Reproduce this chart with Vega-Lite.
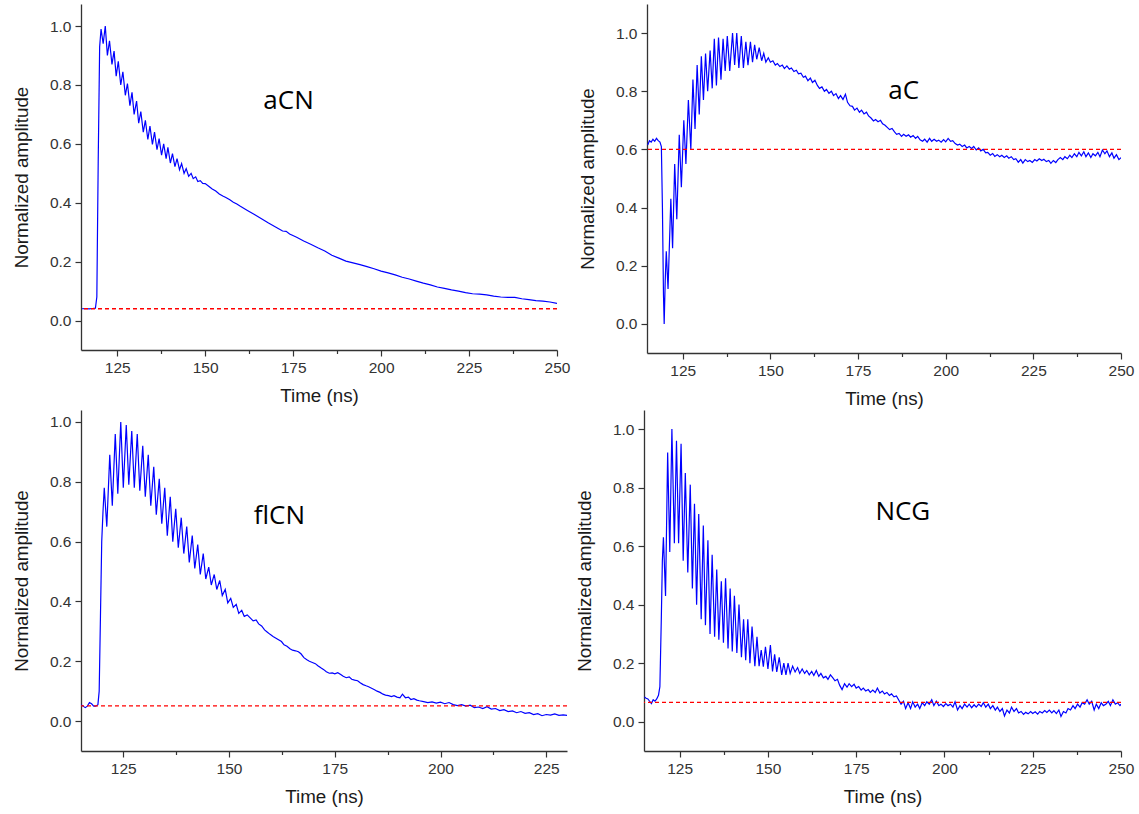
{
"$schema": "https://vega.github.io/schema/vega-lite/v6.json",
"background": "white",
"padding": {"left": 12, "top": 4, "right": 2, "bottom": 2},
"config": {
  "view": {"stroke": null},
  "axis": {"grid": false, "domainColor": "#333333", "domainWidth": 1.3, "tickColor": "#333333", "tickWidth": 1.2, "labelColor": "#333333", "titleColor": "#1a1a1a", "labelFont": "Liberation Sans", "titleFont": "Liberation Sans", "labelFontSize": 15.5, "titleFontSize": 18.8, "titleFontWeight": "normal", "labelOverlap": false, "labelFlush": false}
},
"datasets": {
  "meta": [
    {"panel": "aCN", "t": 173.7, "a": 0.719, "base": 0.04},
    {"panel": "aC", "t": 188, "a": 0.774, "base": 0.6},
    {"panel": "flCN", "t": 161.9, "a": 0.66, "base": 0.051},
    {"panel": "NCG", "t": 188.2, "a": 0.689, "base": 0.066}
  ],
  "aCN": [{"t":115,"a":0.04},{"t":116,"a":0.041},{"t":117,"a":0.04},{"t":118,"a":0.041},{"t":118.8,"a":0.042},{"t":119.2,"a":0.08},{"t":119.6,"a":0.55},{"t":120,"a":0.93},{"t":120.4,"a":0.99},{"t":121,"a":0.94},{"t":121.6,"a":1.0},{"t":122.2,"a":0.9},{"t":122.8,"a":0.95},{"t":123.5,"a":0.87},{"t":124.1,"a":0.915},{"t":124.7,"a":0.83},{"t":125.3,"a":0.88},{"t":126,"a":0.8},{"t":126.6,"a":0.845},{"t":127.3,"a":0.765},{"t":127.9,"a":0.805},{"t":128.6,"a":0.73},{"t":129.2,"a":0.775},{"t":129.8,"a":0.7},{"t":130.5,"a":0.745},{"t":131.1,"a":0.67},{"t":131.7,"a":0.71},{"t":132.4,"a":0.64},{"t":133,"a":0.68},{"t":133.7,"a":0.615},{"t":134.3,"a":0.66},{"t":135,"a":0.598},{"t":135.6,"a":0.64},{"t":136.3,"a":0.58},{"t":136.9,"a":0.618},{"t":137.6,"a":0.562},{"t":138.2,"a":0.6},{"t":138.9,"a":0.55},{"t":139.4,"a":0.588},{"t":140.1,"a":0.535},{"t":140.7,"a":0.567},{"t":141.4,"a":0.523},{"t":142,"a":0.55},{"t":142.7,"a":0.512},{"t":143.3,"a":0.533},{"t":144,"a":0.5},{"t":144.6,"a":0.516},{"t":145.3,"a":0.49},{"t":146,"a":0.5},{"t":146.6,"a":0.482},{"t":147.3,"a":0.488},{"t":147.9,"a":0.472},{"t":148.6,"a":0.475},{"t":149.3,"a":0.466},{"t":150,"a":0.465},{"t":151,"a":0.456},{"t":152,"a":0.447},{"t":153,"a":0.44},{"t":154,"a":0.43},{"t":155,"a":0.423},{"t":156,"a":0.417},{"t":157,"a":0.41},{"t":158,"a":0.402},{"t":159,"a":0.396},{"t":160,"a":0.388},{"t":162,"a":0.374},{"t":164,"a":0.36},{"t":166,"a":0.346},{"t":168,"a":0.331},{"t":170,"a":0.318},{"t":172,"a":0.304},{"t":173,"a":0.303},{"t":174,"a":0.294},{"t":176,"a":0.283},{"t":178,"a":0.27},{"t":180,"a":0.259},{"t":182,"a":0.247},{"t":184,"a":0.236},{"t":186,"a":0.222},{"t":188,"a":0.212},{"t":190,"a":0.202},{"t":192,"a":0.196},{"t":194,"a":0.19},{"t":196,"a":0.183},{"t":198,"a":0.176},{"t":200,"a":0.168},{"t":202,"a":0.162},{"t":204,"a":0.155},{"t":206,"a":0.147},{"t":208,"a":0.141},{"t":210,"a":0.134},{"t":212,"a":0.127},{"t":214,"a":0.121},{"t":216,"a":0.114},{"t":218,"a":0.109},{"t":220,"a":0.104},{"t":222,"a":0.1},{"t":224,"a":0.095},{"t":226,"a":0.091},{"t":228,"a":0.09},{"t":230,"a":0.087},{"t":232,"a":0.083},{"t":234,"a":0.08},{"t":236,"a":0.079},{"t":238,"a":0.079},{"t":240,"a":0.074},{"t":242,"a":0.071},{"t":244,"a":0.068},{"t":246,"a":0.066},{"t":248,"a":0.063},{"t":250,"a":0.058}],
  "aC": [{"t":115,"a":0.615},{"t":115.5,"a":0.63},{"t":116,"a":0.625},{"t":116.5,"a":0.635},{"t":117,"a":0.628},{"t":117.5,"a":0.638},{"t":118,"a":0.63},{"t":118.5,"a":0.625},{"t":118.9,"a":0.61},{"t":119.2,"a":0.4},{"t":119.5,"a":0.1},{"t":119.7,"a":0.0},{"t":120,"a":0.15},{"t":120.3,"a":0.25},{"t":120.8,"a":0.12},{"t":121.6,"a":0.43},{"t":122.1,"a":0.26},{"t":122.7,"a":0.55},{"t":123.3,"a":0.36},{"t":124,"a":0.65},{"t":124.6,"a":0.47},{"t":125.3,"a":0.7},{"t":125.9,"a":0.55},{"t":126.6,"a":0.77},{"t":127.3,"a":0.6},{"t":127.9,"a":0.84},{"t":128.5,"a":0.67},{"t":129.1,"a":0.89},{"t":129.7,"a":0.72},{"t":130.3,"a":0.92},{"t":130.9,"a":0.77},{"t":131.5,"a":0.93},{"t":132.1,"a":0.8},{"t":132.8,"a":0.94},{"t":133.4,"a":0.81},{"t":134,"a":0.98},{"t":134.6,"a":0.82},{"t":135.2,"a":0.985},{"t":135.9,"a":0.84},{"t":136.5,"a":0.98},{"t":137.1,"a":0.87},{"t":137.7,"a":0.99},{"t":138.4,"a":0.87},{"t":139.2,"a":1.0},{"t":139.8,"a":0.89},{"t":140.4,"a":1.0},{"t":141,"a":0.88},{"t":141.7,"a":0.99},{"t":142.3,"a":0.88},{"t":143,"a":0.97},{"t":143.6,"a":0.89},{"t":144.3,"a":0.97},{"t":144.9,"a":0.9},{"t":145.5,"a":0.96},{"t":146.1,"a":0.91},{"t":146.8,"a":0.95},{"t":147.5,"a":0.905},{"t":148.1,"a":0.93},{"t":148.7,"a":0.9},{"t":149.4,"a":0.915},{"t":150,"a":0.9},{"t":150.7,"a":0.905},{"t":151.4,"a":0.89},{"t":152,"a":0.895},{"t":152.7,"a":0.885},{"t":153.4,"a":0.89},{"t":154,"a":0.878},{"t":154.7,"a":0.887},{"t":155.4,"a":0.876},{"t":156,"a":0.88},{"t":156.7,"a":0.868},{"t":157.4,"a":0.872},{"t":158,"a":0.86},{"t":158.7,"a":0.862},{"t":159.4,"a":0.848},{"t":160,"a":0.852},{"t":160.7,"a":0.836},{"t":161.4,"a":0.845},{"t":162,"a":0.83},{"t":162.7,"a":0.838},{"t":163.4,"a":0.82},{"t":164,"a":0.81},{"t":164.7,"a":0.815},{"t":165.4,"a":0.8},{"t":166,"a":0.806},{"t":166.7,"a":0.793},{"t":167.4,"a":0.8},{"t":168,"a":0.785},{"t":168.7,"a":0.792},{"t":169.4,"a":0.775},{"t":170,"a":0.785},{"t":170.7,"a":0.772},{"t":171.4,"a":0.79},{"t":172,"a":0.762},{"t":172.7,"a":0.75},{"t":173.4,"a":0.748},{"t":174,"a":0.735},{"t":174.7,"a":0.742},{"t":175.4,"a":0.728},{"t":176,"a":0.735},{"t":176.7,"a":0.722},{"t":177.4,"a":0.728},{"t":178,"a":0.715},{"t":178.7,"a":0.708},{"t":179.4,"a":0.698},{"t":180,"a":0.703},{"t":180.7,"a":0.695},{"t":181.4,"a":0.7},{"t":182,"a":0.688},{"t":182.7,"a":0.683},{"t":183.4,"a":0.675},{"t":184,"a":0.668},{"t":184.7,"a":0.672},{"t":185.4,"a":0.66},{"t":186,"a":0.652},{"t":186.7,"a":0.655},{"t":187.4,"a":0.645},{"t":188,"a":0.652},{"t":188.7,"a":0.645},{"t":189.4,"a":0.65},{"t":190,"a":0.642},{"t":190.7,"a":0.648},{"t":191.4,"a":0.638},{"t":192,"a":0.645},{"t":192.7,"a":0.633},{"t":193.4,"a":0.628},{"t":194,"a":0.635},{"t":194.7,"a":0.625},{"t":195.4,"a":0.638},{"t":196,"a":0.628},{"t":196.7,"a":0.635},{"t":197.4,"a":0.628},{"t":198,"a":0.632},{"t":198.7,"a":0.625},{"t":199.4,"a":0.634},{"t":200,"a":0.626},{"t":200.7,"a":0.638},{"t":201.4,"a":0.628},{"t":202,"a":0.63},{"t":202.7,"a":0.62},{"t":203.4,"a":0.615},{"t":204,"a":0.618},{"t":204.7,"a":0.61},{"t":205.4,"a":0.615},{"t":206,"a":0.605},{"t":206.7,"a":0.61},{"t":207.4,"a":0.603},{"t":208,"a":0.61},{"t":208.7,"a":0.598},{"t":209.4,"a":0.605},{"t":210,"a":0.595},{"t":210.7,"a":0.6},{"t":211.4,"a":0.588},{"t":212,"a":0.59},{"t":212.7,"a":0.58},{"t":213.4,"a":0.586},{"t":214,"a":0.576},{"t":214.7,"a":0.582},{"t":215.4,"a":0.575},{"t":216,"a":0.58},{"t":216.7,"a":0.572},{"t":217.4,"a":0.578},{"t":218,"a":0.57},{"t":218.7,"a":0.575},{"t":219.4,"a":0.565},{"t":220,"a":0.568},{"t":220.7,"a":0.556},{"t":221.4,"a":0.565},{"t":222,"a":0.553},{"t":222.7,"a":0.565},{"t":223.4,"a":0.558},{"t":224,"a":0.562},{"t":224.7,"a":0.555},{"t":225.4,"a":0.565},{"t":226,"a":0.56},{"t":226.7,"a":0.568},{"t":227.4,"a":0.562},{"t":228,"a":0.566},{"t":228.7,"a":0.558},{"t":229.4,"a":0.562},{"t":230,"a":0.552},{"t":230.7,"a":0.562},{"t":231.4,"a":0.555},{"t":232,"a":0.565},{"t":232.7,"a":0.572},{"t":233.4,"a":0.565},{"t":234,"a":0.575},{"t":234.7,"a":0.568},{"t":235.4,"a":0.58},{"t":236,"a":0.572},{"t":236.7,"a":0.585},{"t":237.4,"a":0.575},{"t":238,"a":0.59},{"t":238.7,"a":0.578},{"t":239.4,"a":0.592},{"t":240,"a":0.575},{"t":240.7,"a":0.588},{"t":241.4,"a":0.572},{"t":242,"a":0.585},{"t":242.7,"a":0.578},{"t":243.4,"a":0.59},{"t":244,"a":0.575},{"t":244.7,"a":0.598},{"t":245.4,"a":0.585},{"t":246,"a":0.595},{"t":246.7,"a":0.575},{"t":247.4,"a":0.588},{"t":248,"a":0.57},{"t":248.7,"a":0.582},{"t":249.4,"a":0.565},{"t":250,"a":0.572}],
  "flCN": [{"t":115,"a":0.055},{"t":115.5,"a":0.05},{"t":116,"a":0.045},{"t":116.5,"a":0.05},{"t":117,"a":0.062},{"t":117.5,"a":0.058},{"t":118,"a":0.05},{"t":118.5,"a":0.05},{"t":119,"a":0.055},{"t":119.3,"a":0.1},{"t":119.6,"a":0.35},{"t":119.9,"a":0.6},{"t":120.2,"a":0.7},{"t":120.5,"a":0.78},{"t":121.1,"a":0.65},{"t":121.8,"a":0.89},{"t":122.4,"a":0.72},{"t":123.1,"a":0.96},{"t":123.7,"a":0.76},{"t":124.4,"a":1.0},{"t":125,"a":0.78},{"t":125.7,"a":0.99},{"t":126.3,"a":0.79},{"t":127,"a":0.97},{"t":127.6,"a":0.78},{"t":128.3,"a":0.96},{"t":128.9,"a":0.77},{"t":129.6,"a":0.92},{"t":130.2,"a":0.75},{"t":130.9,"a":0.89},{"t":131.5,"a":0.72},{"t":132.2,"a":0.85},{"t":132.8,"a":0.69},{"t":133.5,"a":0.81},{"t":134.1,"a":0.66},{"t":134.8,"a":0.78},{"t":135.4,"a":0.62},{"t":136.1,"a":0.75},{"t":136.7,"a":0.6},{"t":137.4,"a":0.71},{"t":138,"a":0.58},{"t":138.7,"a":0.68},{"t":139.3,"a":0.56},{"t":140,"a":0.65},{"t":140.6,"a":0.53},{"t":141.3,"a":0.62},{"t":141.9,"a":0.51},{"t":142.6,"a":0.59},{"t":143.2,"a":0.49},{"t":143.9,"a":0.56},{"t":144.5,"a":0.475},{"t":145.2,"a":0.515},{"t":145.8,"a":0.455},{"t":146.5,"a":0.49},{"t":147.1,"a":0.44},{"t":147.8,"a":0.47},{"t":148.4,"a":0.42},{"t":149.1,"a":0.44},{"t":149.7,"a":0.395},{"t":150.4,"a":0.41},{"t":151,"a":0.38},{"t":151.7,"a":0.39},{"t":152.3,"a":0.36},{"t":153,"a":0.37},{"t":153.6,"a":0.35},{"t":154.3,"a":0.355},{"t":155,"a":0.345},{"t":155.7,"a":0.335},{"t":156.4,"a":0.338},{"t":157,"a":0.325},{"t":157.7,"a":0.318},{"t":158.4,"a":0.305},{"t":159,"a":0.298},{"t":159.7,"a":0.29},{"t":160.4,"a":0.283},{"t":161,"a":0.278},{"t":161.7,"a":0.272},{"t":162.4,"a":0.266},{"t":163,"a":0.255},{"t":163.7,"a":0.25},{"t":164.4,"a":0.242},{"t":165,"a":0.237},{"t":165.7,"a":0.235},{"t":166.4,"a":0.232},{"t":167,"a":0.225},{"t":167.7,"a":0.212},{"t":168.4,"a":0.205},{"t":169,"a":0.2},{"t":169.7,"a":0.196},{"t":170.4,"a":0.192},{"t":171,"a":0.185},{"t":171.7,"a":0.178},{"t":172.4,"a":0.172},{"t":173,"a":0.165},{"t":173.7,"a":0.16},{"t":174.4,"a":0.161},{"t":175,"a":0.158},{"t":175.7,"a":0.162},{"t":176.4,"a":0.156},{"t":177,"a":0.15},{"t":177.7,"a":0.145},{"t":178.4,"a":0.148},{"t":179,"a":0.14},{"t":179.7,"a":0.137},{"t":180.4,"a":0.135},{"t":181,"a":0.128},{"t":181.7,"a":0.122},{"t":182.4,"a":0.118},{"t":183,"a":0.115},{"t":183.7,"a":0.11},{"t":184.4,"a":0.105},{"t":185,"a":0.1},{"t":185.7,"a":0.096},{"t":186.4,"a":0.09},{"t":187,"a":0.087},{"t":187.7,"a":0.085},{"t":188.4,"a":0.082},{"t":189,"a":0.085},{"t":189.7,"a":0.08},{"t":190.4,"a":0.078},{"t":191,"a":0.09},{"t":191.7,"a":0.078},{"t":192.4,"a":0.08},{"t":193,"a":0.072},{"t":193.7,"a":0.075},{"t":194.4,"a":0.07},{"t":195,"a":0.068},{"t":196,"a":0.065},{"t":197,"a":0.062},{"t":198,"a":0.064},{"t":199,"a":0.06},{"t":200,"a":0.063},{"t":201,"a":0.058},{"t":202,"a":0.062},{"t":203,"a":0.055},{"t":204,"a":0.052},{"t":205,"a":0.055},{"t":206,"a":0.05},{"t":207,"a":0.053},{"t":208,"a":0.045},{"t":209,"a":0.047},{"t":210,"a":0.042},{"t":211,"a":0.048},{"t":212,"a":0.04},{"t":213,"a":0.042},{"t":214,"a":0.035},{"t":215,"a":0.038},{"t":216,"a":0.032},{"t":217,"a":0.034},{"t":218,"a":0.028},{"t":219,"a":0.032},{"t":220,"a":0.026},{"t":221,"a":0.028},{"t":222,"a":0.022},{"t":223,"a":0.025},{"t":224,"a":0.018},{"t":225,"a":0.022},{"t":226,"a":0.02},{"t":227,"a":0.024},{"t":228,"a":0.019},{"t":229,"a":0.021},{"t":230,"a":0.019}],
  "NCG": [{"t":115,"a":0.085},{"t":115.5,"a":0.08},{"t":116,"a":0.078},{"t":116.5,"a":0.07},{"t":117,"a":0.062},{"t":117.5,"a":0.075},{"t":118,"a":0.07},{"t":118.5,"a":0.078},{"t":119,"a":0.09},{"t":119.4,"a":0.12},{"t":119.8,"a":0.35},{"t":120.1,"a":0.55},{"t":120.4,"a":0.63},{"t":121,"a":0.43},{"t":121.6,"a":0.92},{"t":122.2,"a":0.58},{"t":122.8,"a":1.0},{"t":123.5,"a":0.61},{"t":124.1,"a":0.96},{"t":124.7,"a":0.61},{"t":125.4,"a":0.95},{"t":126,"a":0.55},{"t":126.6,"a":0.85},{"t":127.3,"a":0.51},{"t":128,"a":0.81},{"t":128.6,"a":0.455},{"t":129.2,"a":0.745},{"t":129.8,"a":0.4},{"t":130.4,"a":0.71},{"t":131.1,"a":0.35},{"t":131.7,"a":0.67},{"t":132.3,"a":0.33},{"t":133,"a":0.62},{"t":133.6,"a":0.3},{"t":134.2,"a":0.57},{"t":134.9,"a":0.29},{"t":135.5,"a":0.52},{"t":136.1,"a":0.28},{"t":136.8,"a":0.48},{"t":137.4,"a":0.27},{"t":138,"a":0.49},{"t":138.7,"a":0.25},{"t":139.3,"a":0.455},{"t":139.9,"a":0.24},{"t":140.5,"a":0.43},{"t":141.2,"a":0.235},{"t":141.8,"a":0.4},{"t":142.5,"a":0.22},{"t":143.1,"a":0.35},{"t":143.7,"a":0.21},{"t":144.3,"a":0.35},{"t":144.9,"a":0.2},{"t":145.5,"a":0.325},{"t":146.3,"a":0.19},{"t":146.9,"a":0.29},{"t":147.5,"a":0.19},{"t":148.1,"a":0.245},{"t":148.7,"a":0.188},{"t":149.3,"a":0.256},{"t":150,"a":0.18},{"t":150.7,"a":0.262},{"t":151.3,"a":0.172},{"t":151.9,"a":0.23},{"t":152.5,"a":0.17},{"t":153.2,"a":0.22},{"t":153.9,"a":0.16},{"t":154.5,"a":0.2},{"t":155.1,"a":0.16},{"t":155.7,"a":0.2},{"t":156.3,"a":0.165},{"t":157,"a":0.19},{"t":157.7,"a":0.17},{"t":158.4,"a":0.185},{"t":159,"a":0.165},{"t":159.7,"a":0.18},{"t":160.4,"a":0.165},{"t":161,"a":0.175},{"t":161.7,"a":0.16},{"t":162.4,"a":0.172},{"t":163,"a":0.158},{"t":163.7,"a":0.175},{"t":164.4,"a":0.155},{"t":165,"a":0.165},{"t":165.7,"a":0.15},{"t":166.4,"a":0.155},{"t":167,"a":0.145},{"t":167.7,"a":0.16},{"t":168.4,"a":0.15},{"t":169,"a":0.14},{"t":169.7,"a":0.145},{"t":170.3,"a":0.125},{"t":171,"a":0.11},{"t":171.7,"a":0.13},{"t":172.4,"a":0.118},{"t":173,"a":0.13},{"t":173.7,"a":0.12},{"t":174.4,"a":0.128},{"t":175,"a":0.115},{"t":175.7,"a":0.12},{"t":176.4,"a":0.108},{"t":177,"a":0.115},{"t":177.7,"a":0.105},{"t":178.4,"a":0.11},{"t":179,"a":0.1},{"t":179.7,"a":0.108},{"t":180.4,"a":0.1},{"t":181,"a":0.115},{"t":181.7,"a":0.098},{"t":182.4,"a":0.105},{"t":183,"a":0.095},{"t":183.7,"a":0.1},{"t":184.4,"a":0.09},{"t":185,"a":0.095},{"t":185.7,"a":0.085},{"t":186.4,"a":0.088},{"t":187,"a":0.075},{"t":187.7,"a":0.06},{"t":188.4,"a":0.07},{"t":189,"a":0.045},{"t":189.7,"a":0.065},{"t":190.4,"a":0.045},{"t":191,"a":0.068},{"t":191.7,"a":0.05},{"t":192.4,"a":0.06},{"t":193,"a":0.045},{"t":193.7,"a":0.065},{"t":194.4,"a":0.055},{"t":195,"a":0.068},{"t":195.7,"a":0.06},{"t":196.4,"a":0.075},{"t":197,"a":0.055},{"t":197.7,"a":0.07},{"t":198.4,"a":0.055},{"t":199,"a":0.06},{"t":199.7,"a":0.052},{"t":200.4,"a":0.062},{"t":201,"a":0.055},{"t":201.7,"a":0.06},{"t":202.4,"a":0.05},{"t":203,"a":0.068},{"t":203.7,"a":0.04},{"t":204.4,"a":0.055},{"t":205,"a":0.045},{"t":205.7,"a":0.06},{"t":206.4,"a":0.05},{"t":207,"a":0.06},{"t":207.7,"a":0.048},{"t":208.4,"a":0.058},{"t":209,"a":0.05},{"t":209.7,"a":0.06},{"t":210.4,"a":0.052},{"t":211,"a":0.065},{"t":211.7,"a":0.05},{"t":212.4,"a":0.06},{"t":213,"a":0.045},{"t":213.7,"a":0.055},{"t":214.4,"a":0.04},{"t":215,"a":0.05},{"t":215.7,"a":0.035},{"t":216.4,"a":0.045},{"t":217,"a":0.02},{"t":217.7,"a":0.04},{"t":218.4,"a":0.03},{"t":219,"a":0.05},{"t":219.7,"a":0.035},{"t":220.4,"a":0.045},{"t":221,"a":0.03},{"t":221.7,"a":0.035},{"t":222.4,"a":0.025},{"t":223,"a":0.032},{"t":223.7,"a":0.027},{"t":224.4,"a":0.035},{"t":225,"a":0.028},{"t":225.7,"a":0.034},{"t":226.4,"a":0.026},{"t":227,"a":0.035},{"t":227.7,"a":0.03},{"t":228.4,"a":0.038},{"t":229,"a":0.032},{"t":229.7,"a":0.04},{"t":230.4,"a":0.03},{"t":231,"a":0.038},{"t":231.7,"a":0.028},{"t":232.4,"a":0.04},{"t":233,"a":0.018},{"t":233.7,"a":0.035},{"t":234.4,"a":0.03},{"t":235,"a":0.045},{"t":235.7,"a":0.04},{"t":236.4,"a":0.055},{"t":237,"a":0.045},{"t":237.7,"a":0.06},{"t":238.4,"a":0.05},{"t":239,"a":0.065},{"t":239.7,"a":0.06},{"t":240.4,"a":0.075},{"t":241,"a":0.06},{"t":241.7,"a":0.07},{"t":242.4,"a":0.04},{"t":243,"a":0.06},{"t":243.7,"a":0.045},{"t":244.4,"a":0.065},{"t":245,"a":0.055},{"t":245.7,"a":0.06},{"t":246.4,"a":0.07},{"t":247,"a":0.055},{"t":247.7,"a":0.075},{"t":248.4,"a":0.06},{"t":249,"a":0.065},{"t":249.7,"a":0.055},{"t":250,"a":0.06}]
},
"spacing": 1,
"vconcat": [
  {"bounds": "flush", "spacing": 90, "hconcat": [
    {"width": 476, "height": 346, "layer": [
      {"data": {"name": "aCN"}, "mark": {"type": "line", "color": "#0000ff", "strokeWidth": 1.2, "clip": true},
       "encoding": {
        "x": {"field": "t", "type": "quantitative", "scale": {"domain": [114.7, 250], "nice": false, "zero": false},
              "axis": {"title": "Time (ns)", "values": [125, 137.5, 150, 162.5, 175, 187.5, 200, 212.5, 225, 237.5, 250], "labelExpr": "datum.value % 25 == 0 ? format(datum.value, 'd') : ''", "tickSize": {"condition": {"test": "datum.value % 25 != 0", "value": 3.5}, "value": 6}, "labelPadding": 4, "titlePadding": 11}},
        "y": {"field": "a", "type": "quantitative", "scale": {"domain": [-0.1, 1.075], "nice": false, "zero": false},
              "axis": {"title": "Normalized amplitude", "values": [0, 0.1, 0.2, 0.3, 0.4, 0.5, 0.6, 0.7, 0.8, 0.9, 1.0], "labelExpr": "round(datum.value * 10) % 2 == 0 ? format(datum.value, '.1f') : ''", "tickSize": {"condition": {"test": "round(datum.value * 10) % 2 != 0", "value": 3}, "value": 6}, "labelPadding": 4, "titlePadding": 18}}}},
      {"data": {"name": "meta"}, "transform": [{"filter": "datum.panel == 'aCN'"}], "mark": {"type": "rule", "color": "#ff0000", "strokeDash": [4, 3], "strokeWidth": 1.3},
       "encoding": {"y": {"field": "base", "type": "quantitative"}}},
      {"data": {"name": "meta"}, "transform": [{"filter": "datum.panel == 'aCN'"}], "mark": {"type": "text", "font": "Open Sans", "fontSize": 26, "align": "center", "baseline": "alphabetic", "color": "#000000"},
       "encoding": {"x": {"field": "t", "type": "quantitative"}, "y": {"field": "a", "type": "quantitative"}, "text": {"field": "panel"}}}
    ]},
    {"width": 474, "height": 349, "layer": [
      {"data": {"name": "aC"}, "mark": {"type": "line", "color": "#0000ff", "strokeWidth": 1.2, "clip": true},
       "encoding": {
        "x": {"field": "t", "type": "quantitative", "scale": {"domain": [114.8, 250], "nice": false, "zero": false},
              "axis": {"title": "Time (ns)", "values": [125, 137.5, 150, 162.5, 175, 187.5, 200, 212.5, 225, 237.5, 250], "labelExpr": "datum.value % 25 == 0 ? format(datum.value, 'd') : ''", "tickSize": {"condition": {"test": "datum.value % 25 != 0", "value": 3.5}, "value": 6}, "labelPadding": 4, "titlePadding": 11}},
        "y": {"field": "a", "type": "quantitative", "scale": {"domain": [-0.1, 1.1], "nice": false, "zero": false},
              "axis": {"title": "Normalized amplitude", "values": [0, 0.1, 0.2, 0.3, 0.4, 0.5, 0.6, 0.7, 0.8, 0.9, 1.0], "labelExpr": "round(datum.value * 10) % 2 == 0 ? format(datum.value, '.1f') : ''", "tickSize": {"condition": {"test": "round(datum.value * 10) % 2 != 0", "value": 3}, "value": 6}, "labelPadding": 4, "titlePadding": 18}}}},
      {"data": {"name": "meta"}, "transform": [{"filter": "datum.panel == 'aC'"}], "mark": {"type": "rule", "color": "#ff0000", "strokeDash": [4, 3], "strokeWidth": 1.3},
       "encoding": {"y": {"field": "base", "type": "quantitative"}}},
      {"data": {"name": "meta"}, "transform": [{"filter": "datum.panel == 'aC'"}], "mark": {"type": "text", "font": "Open Sans", "fontSize": 26, "align": "center", "baseline": "alphabetic", "color": "#000000"},
       "encoding": {"x": {"field": "t", "type": "quantitative"}, "y": {"field": "a", "type": "quantitative"}, "text": {"field": "panel"}}}
    ]}
  ]},
  {"bounds": "flush", "spacing": 77, "hconcat": [
    {"width": 486, "height": 341, "layer": [
      {"data": {"name": "flCN"}, "mark": {"type": "line", "color": "#0000ff", "strokeWidth": 1.2, "clip": true},
       "encoding": {
        "x": {"field": "t", "type": "quantitative", "scale": {"domain": [115, 229.9], "nice": false, "zero": false},
              "axis": {"title": "Time (ns)", "values": [125, 137.5, 150, 162.5, 175, 187.5, 200, 212.5, 225], "labelExpr": "datum.value % 25 == 0 ? format(datum.value, 'd') : ''", "tickSize": {"condition": {"test": "datum.value % 25 != 0", "value": 3.5}, "value": 6}, "labelPadding": 4, "titlePadding": 11}},
        "y": {"field": "a", "type": "quantitative", "scale": {"domain": [-0.1, 1.04], "nice": false, "zero": false},
              "axis": {"title": "Normalized amplitude", "values": [0, 0.1, 0.2, 0.3, 0.4, 0.5, 0.6, 0.7, 0.8, 0.9, 1.0], "labelExpr": "round(datum.value * 10) % 2 == 0 ? format(datum.value, '.1f') : ''", "tickSize": {"condition": {"test": "round(datum.value * 10) % 2 != 0", "value": 3}, "value": 6}, "labelPadding": 4, "titlePadding": 18}}}},
      {"data": {"name": "meta"}, "transform": [{"filter": "datum.panel == 'flCN'"}], "mark": {"type": "rule", "color": "#ff0000", "strokeDash": [4, 3], "strokeWidth": 1.3},
       "encoding": {"y": {"field": "base", "type": "quantitative"}}},
      {"data": {"name": "meta"}, "transform": [{"filter": "datum.panel == 'flCN'"}], "mark": {"type": "text", "font": "Open Sans", "fontSize": 26, "align": "center", "baseline": "alphabetic", "color": "#000000"},
       "encoding": {"x": {"field": "t", "type": "quantitative"}, "y": {"field": "a", "type": "quantitative"}, "text": {"field": "panel"}}}
    ]},
    {"width": 477, "height": 341, "layer": [
      {"data": {"name": "NCG"}, "mark": {"type": "line", "color": "#0000ff", "strokeWidth": 1.2, "clip": true},
       "encoding": {
        "x": {"field": "t", "type": "quantitative", "scale": {"domain": [114.9, 250], "nice": false, "zero": false},
              "axis": {"title": "Time (ns)", "values": [125, 137.5, 150, 162.5, 175, 187.5, 200, 212.5, 225, 237.5, 250], "labelExpr": "datum.value % 25 == 0 ? format(datum.value, 'd') : ''", "tickSize": {"condition": {"test": "datum.value % 25 != 0", "value": 3.5}, "value": 6}, "labelPadding": 4, "titlePadding": 11}},
        "y": {"field": "a", "type": "quantitative", "scale": {"domain": [-0.1, 1.065], "nice": false, "zero": false},
              "axis": {"title": "Normalized amplitude", "values": [0, 0.1, 0.2, 0.3, 0.4, 0.5, 0.6, 0.7, 0.8, 0.9, 1.0], "labelExpr": "round(datum.value * 10) % 2 == 0 ? format(datum.value, '.1f') : ''", "tickSize": {"condition": {"test": "round(datum.value * 10) % 2 != 0", "value": 3}, "value": 6}, "labelPadding": 4, "titlePadding": 18}}}},
      {"data": {"name": "meta"}, "transform": [{"filter": "datum.panel == 'NCG'"}], "mark": {"type": "rule", "color": "#ff0000", "strokeDash": [4, 3], "strokeWidth": 1.3},
       "encoding": {"y": {"field": "base", "type": "quantitative"}}},
      {"data": {"name": "meta"}, "transform": [{"filter": "datum.panel == 'NCG'"}], "mark": {"type": "text", "font": "Open Sans", "fontSize": 26, "align": "center", "baseline": "alphabetic", "color": "#000000"},
       "encoding": {"x": {"field": "t", "type": "quantitative"}, "y": {"field": "a", "type": "quantitative"}, "text": {"field": "panel"}}}
    ]}
  ]}
]
}
